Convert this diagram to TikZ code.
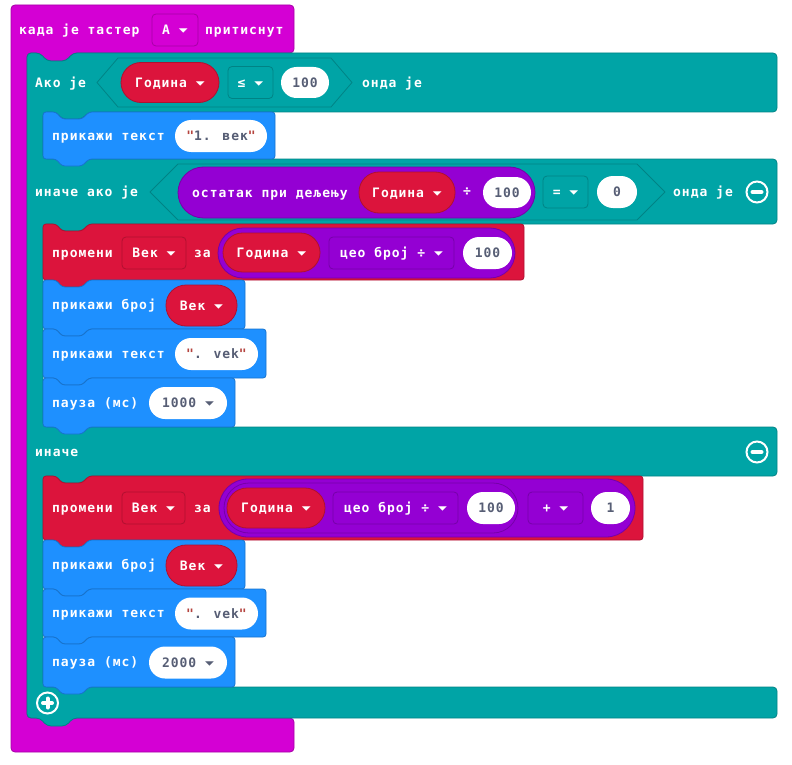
\documentclass[tikz,border=0pt]{standalone}
\usepackage{fontspec}
\usepackage{graphicx}
\usepackage{xcolor}
\usepackage{tikz}
\newfontfamily\blkfamily{DejaVu Sans Mono}[LetterSpace=7.5]
\newfontfamily\ddfamily{DejaVu Sans}
\newcommand{\blockfont}{\blkfamily\bfseries\fontsize{13}{15}\selectfont}
\newcommand{\ddarrow}{{\ddfamily\fontsize{10.5}{10}\selectfont\raisebox{2pt}{\scalebox{1.1}[0.55]{▼}}}}
\newcommand{\quo}{{\color{strq}"}}
\definecolor{eventc}{HTML}{D400D4}
\definecolor{eventd}{HTML}{A600A6}
\definecolor{logicc}{HTML}{00A4A6}
\definecolor{logicd}{HTML}{008385}
\definecolor{basicc}{HTML}{1E90FF}
\definecolor{basicd}{HTML}{1873CC}
\definecolor{varc}{HTML}{DC143C}
\definecolor{vard}{HTML}{B01030}
\definecolor{mathc}{HTML}{9400D3}
\definecolor{mathd}{HTML}{7600A9}
\definecolor{numgray}{HTML}{575E75}
\definecolor{strq}{HTML}{B5443F}
\tikzset{
  every picture/.style = {
    x=1pt,
    y=-1pt,
    font=\blockfont
  },
  eventblk/.style={
    fill=eventc,
    draw=eventd,
    line width=0.8
  },
  logicblk/.style={
    fill=logicc,
    draw=logicd,
    line width=0.8
  },
  basicblk/.style={
    fill=basicc,
    draw=basicd,
    line width=0.8
  },
  varblk/.style={
    fill=varc,
    draw=vard,
    line width=0.8
  },
  mathblk/.style={
    fill=mathc,
    draw=mathd,
    line width=0.8
  },
  lbl/.style={
    text=white,
    inner sep=0,
    text height=9.5pt,
    text depth=0pt,
    anchor=west
  },
  field/.style={
    fill=white,
    text=numgray,
    inner sep=0,
    text height=9.5pt,
    text depth=0pt,
    minimum height=32,
    rounded corners=16
  },
  varpill/.style={
    varblk,
    text=white,
    inner sep=0,
    text height=9.5pt,
    text depth=0pt,
    minimum height=40,
    rounded corners=20
  },
  drop/.style={
    fill=#1c,
    draw=#1d,
    line width=0.8,
    text=white,
    inner sep=0,
    text height=9.5pt,
    text depth=0pt,
    minimum height=32,
    rounded corners=4
  },
  pics/stmt/.style n args={3}{
    code={
      \draw[#1, rounded corners=3] (0,0) -- (13,0) -- (19,7) -- (39,7) -- (46,0) -- (#2,0)
        -- (#2,#3) -- (46,#3) -- (39,#3+7) -- (19,#3+7) -- (13,#3) -- (0,#3) -- cycle;
    }
  },
  minus/.pic={
    \draw[white, line width=2] (0,0) circle (10.5);
    \draw[white, line width=4, line cap=round] (-4.5,0) -- (4.5,0);
  },
  plus/.pic={
    \draw[white, line width=2] (0,0) circle (10.5);
    \draw[white, line width=4, line cap=round] (-4.5,0) -- (4.5,0) (0,-4.5) -- (0,4.5);
  }
}
\begin{document}
\begin{tikzpicture}
        \useasboundingbox (0,0) rectangle (792,765);
        \draw[eventblk, rounded corners=4] (11,5) -- (294,5) -- (294,53) -- (73,53) -- (66,61) -- (47,61) -- (40,53)
          -- (27,53) -- (27,718) -- (294,718) -- (294,752) -- (11,752) -- cycle;
        \draw[logicblk, rounded corners=4] (27,53) -- (40,53) -- (47,61) -- (66,61) -- (73,53) -- (777,53) -- (777,112)
          -- (89,112) -- (82,119) -- (62,119) -- (56,112) -- (43,112) -- (43,159) -- (777,159) -- (777,224)
          -- (89,224) -- (82,231) -- (62,231) -- (56,224) -- (43,224) -- (43,427) -- (777,427) -- (777,476)
          -- (89,476) -- (82,483) -- (62,483) -- (56,476) -- (43,476) -- (43,687) -- (777,687) -- (777,718)
          -- (73,718) -- (66,726) -- (47,726) -- (40,718) -- (27,718) -- cycle;
        \pic at (43,112) {stmt={basicblk}{232}{47}};
        \pic at (43,224) {stmt={varblk}{481}{56}};
        \pic at (43,280) {stmt={basicblk}{202}{49}};
        \pic at (43,329) {stmt={basicblk}{223}{49}};
        \pic at (43,378) {stmt={basicblk}{192}{49}};
        \pic at (43,476) {stmt={varblk}{600}{64}};
        \pic at (43,540) {stmt={basicblk}{202}{49}};
        \pic at (43,589) {stmt={basicblk}{223}{48}};
        \pic at (43,637) {stmt={basicblk}{192}{50}};

        \node[lbl] (when) at (19,30) {када је тастер};
        \node[drop=event, minimum width=46] (btn) at (175,30) {A \ddarrow};
        \node[lbl] (pressed) at (205,30) {притиснут};

        \node[lbl] (if) at (35,82.5) {Ако је};
        \draw[logicblk, line join=round] (97,82.5) -- (118,58) -- (331,58) -- (352,82.5) -- (331,107) -- (118,107) -- cycle;
        \node[varpill, minimum width=98] (year1) at (170,82.5) {Година \ddarrow};
        \node[drop=logic, minimum width=45] (le) at (250.5,82.5) {≤ \ddarrow};
        \node[field, minimum width=48, minimum height=31, rounded corners=15.5] (hundred1) at (305,82.5) {100};
        \node[lbl] (then1) at (362,82.5) {онда је};

        \node[lbl] (show1) at (52,136) {прикажи текст};
        \node[field, minimum width=92] (str1) at (221,136) {\quo1. век\quo};

        \node[lbl] (elseif) at (35,192) {иначе ако је};
        \draw[logicblk, line join=round] (150,192) -- (178,164) -- (637,164) -- (665,192) -- (637,220) -- (178,220) -- cycle;
        \draw[mathblk, rounded corners=25.5] (178,167) rectangle (535,218);
        \node[lbl] (rem) at (192,192.5) {остатак при дељењу};
        \node[varpill, minimum width=96, minimum height=41] (year2) at (407,192.5) {Година \ddarrow};
        \node[text=white, inner sep=0] (div1) at (467,192) {÷};
        \node[field, minimum width=48, minimum height=31, rounded corners=15.5] (hundred2) at (507,192.5) {100};
        \node[drop=logic, minimum width=45] (eq) at (565.5,192) {= \ddarrow};
        \node[field, minimum width=40] (zero) at (617,192) {0};
        \node[lbl] (then2) at (673,192) {онда је};
        \pic at (757,192) {minus};

        \node[lbl] (change1) at (52,253) {промени};
        \node[drop=var, minimum width=64] (cent1) at (154,253) {Век \ddarrow};
        \node[lbl] (by1) at (194,253) {за};
        \draw[mathblk, rounded corners=25] (218,228) rectangle (515,278);
        \node[varpill, minimum width=97, minimum height=39, rounded corners=19.5] (year3) at (271.5,252.5) {Година \ddarrow};
        \node[drop=math, minimum width=125] (idiv1) at (391.5,253) {цео број ÷ \ddarrow};
        \node[field, minimum width=49] (hundred3) at (487.5,253) {100};

        \node[lbl] (shownum1) at (52,305) {прикажи број};
        \node[varpill, minimum width=71, minimum height=41] (cent2) at (201.5,305.5) {Век \ddarrow};
        \node[lbl] (show2) at (52,354) {прикажи текст};
        \node[field, minimum width=83] (str2) at (216.5,354) {\quo. vek\quo};
        \node[lbl] (pause1) at (52,403) {пауза (мс)};
        \node[field, minimum width=78] (ms1) at (188,403) {1000 \ddarrow};

        \node[lbl] (else) at (35,452) {иначе};
        \pic at (757,452) {minus};

        \node[lbl] (change2) at (52,508) {промени};
        \node[drop=var, minimum width=63] (cent3) at (153.5,508) {Век \ddarrow};
        \node[lbl] (by2) at (194,508) {за};
        \draw[mathblk, rounded corners=29] (219,479) rectangle (635,537);
        \draw[mathblk, rounded corners=25] (224,483) rectangle (518,533);
        \node[varpill, minimum width=98] (year4) at (276,508) {Година \ddarrow};
        \node[drop=math, minimum width=125] (idiv2) at (395.5,508) {цео број ÷ \ddarrow};
        \node[field, minimum width=48] (hundred4) at (491,508) {100};
        \node[drop=math, minimum width=55] (plusop) at (555.5,508) {+ \ddarrow};
        \node[field, minimum width=39] (one) at (610.5,508) {1};

        \node[lbl] (shownum2) at (52,565) {прикажи број};
        \node[varpill, minimum width=71, minimum height=41] (cent4) at (201.5,565.5) {Век \ddarrow};
        \node[lbl] (show3) at (52,613) {прикажи текст};
        \node[field, minimum width=83] (str3) at (216.5,613.5) {\quo. vek\quo};
        \node[lbl] (pause2) at (52,662) {пауза (мс)};
        \node[field, minimum width=78] (ms2) at (188,662.5) {2000 \ddarrow};
        \pic at (47.5,703) {plus};
\end{tikzpicture}
\end{document}
